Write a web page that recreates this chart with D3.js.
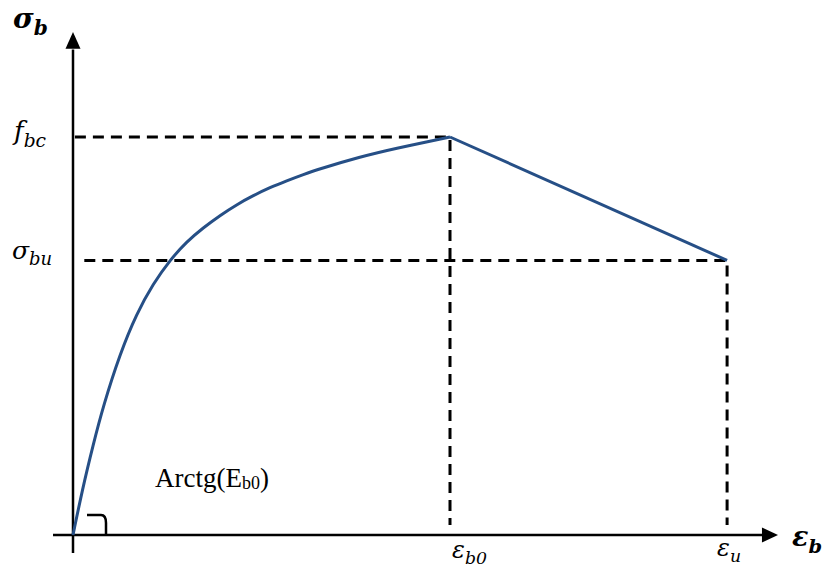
<!DOCTYPE html>
<html>
<head>
<meta charset="utf-8">
<script src="https://cdn.jsdelivr.net/npm/d3@7"></script>
<style>
  body { margin: 0; background: #fff; }
  svg { display: block; }
  .curve { fill: none; stroke: #264f86; stroke-width: 3; }
  .dash { fill: none; stroke: #000; stroke-width: 3; stroke-dasharray: 11,7; }
  .axis { stroke: #000; stroke-width: 2.5; }
  .lbl { font-family: "DejaVu Serif", serif; font-style: italic; }
</style>
</head>
<body>
<svg id="chart" width="833" height="571"></svg>
<script>
// normalised strain (epsB0 = 2) and stress (fbc = 1)
var epsB0 = 2.0,
  epsU = 3.47,
  fbc = 1.0,
  sigmaBu = 0.69;

// ascending branch
var strain = [0, 0.05, 0.106, 0.161, 0.249, 0.338, 0.426, 0.515, 0.603, 0.691, 0.78, 0.868, 0.957, 1.045, 1.134, 1.222, 1.31, 1.523, 1.698, 2.0];
var stress = [0, 0.115, 0.225, 0.325, 0.455, 0.557, 0.632, 0.691, 0.737, 0.772, 0.803, 0.83, 0.853, 0.873, 0.89, 0.906, 0.92, 0.95, 0.97, 1.0];

var svg = d3.select("#chart");

var x = d3.scaleLinear().domain([0, 2]).range([73, 450]);
var y = d3.scaleLinear().domain([0, 1]).range([535, 137]);

// axes with arrows
svg.append("line").attr("class", "axis")
  .attr("x1", x(0)).attr("x2", x(0))
  .attr("y1", y(-0.045)).attr("y2", y(1.22));
svg.append("path")
  .attr("d", `M${x(0)},${y(1.264)} L${x(0) - 7.5},${y(1.222)} L${x(0) + 7.5},${y(1.222)}Z`)
  .attr("fill", "#000");

svg.append("line").attr("class", "axis")
  .attr("x1", x(-0.106)).attr("x2", x(3.66))
  .attr("y1", y(0)).attr("y2", y(0));
svg.append("path")
  .attr("d", `M${x(3.74)},${y(0)} L${x(3.655)},${y(0) - 7.5} L${x(3.655)},${y(0) + 7.5}Z`)
  .attr("fill", "#000");

// dashed guides
svg.append("path").attr("class", "dash")
  .attr("d", d3.line()([[x(0.01), y(fbc)], [x(epsB0), y(fbc)], [x(epsB0), y(0.025)]]));
svg.append("path").attr("class", "dash")
  .attr("d", d3.line()([[x(0.06), y(sigmaBu)], [x(epsU), y(sigmaBu)], [x(epsU), y(0.025)]]));

// stress-strain curve
var pts = strain.map((s, i) => [s, stress[i]]);
var line = d3.line().x(d => x(d[0])).y(d => y(d[1])).curve(d3.curveBasis);
svg.append("path").attr("class", "curve").attr("d", line(pts));
svg.append("path").attr("class", "curve")
  .attr("d", d3.line().x(d => x(d[0])).y(d => y(d[1]))([[epsB0, fbc], [epsU, sigmaBu]]));

// angle mark
var ax = x(0), ay = y(0);
svg.append("path")
  .attr("d", `M${ax + 14},${ay - 20} H${ax + 28} Q${ax + 33},${ay - 20} ${ax + 33},${ay - 12} V${ay}`)
  .attr("fill", "none").attr("stroke", "#000").attr("stroke-width", 2.5);

// labels
function label(px, py, main, sub, size, bold) {
  var t = svg.append("text").attr("class", "lbl")
    .attr("x", px).attr("y", py)
    .style("font-size", size + "px")
    .style("font-weight", bold ? "bold" : "normal");
  t.append("tspan").text(main);
  t.append("tspan").attr("dy", size * 0.25).style("font-size", (size * 0.72) + "px").text(sub);
}
label(13, 28, "σ", "b", 28, true);
label(14, 140, "f", "bc", 26, false);
label(12, 259, "σ", "bu", 25, false);
label(x(epsB0) + 2, 558, "ε", "b0", 24, false);
label(x(epsU) - 10, 556, "ε", "u", 24, false);
label(792, 546, "ε", "b", 27, true);

var arc = svg.append("text")
  .attr("x", 155).attr("y", 487)
  .style("font-family", "'Liberation Serif', serif")
  .style("font-size", "27px");
arc.append("tspan").text("Arctg(E");
arc.append("tspan").attr("dy", 2).style("font-size", "18px").text("b0");
arc.append("tspan").attr("dy", -2).text(")");
</script>
</body>
</html>
